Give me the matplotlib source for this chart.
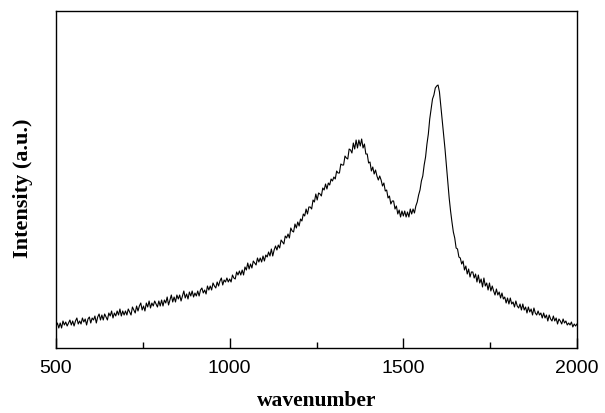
import numpy as np
import matplotlib.pyplot as plt

# Raman spectrum, every 4 cm-1 (intensity in arbitrary units)
wavenumber = np.arange(500, 2001, 4)
intensity = [
    # 500-596
    22, 25, 20, 25, 20, 27, 23, 26, 22, 25, 28, 23, 27, 22, 27, 30, 24, 27, 24, 30, 26, 29, 23, 29, 31,
    # 600-696
    25, 30, 28, 32, 25, 31, 34, 28, 33, 28, 34, 31, 28, 35, 32, 37, 30, 35, 32, 37, 33, 39, 32, 37, 33,
    # 700-796
    37, 33, 39, 36, 33, 41, 38, 35, 42, 37, 42, 45, 38, 42, 37, 45, 41, 47, 40, 45, 42, 47, 44, 41, 47,
    # 800-896
    42, 48, 42, 48, 45, 51, 43, 48, 53, 46, 51, 46, 53, 49, 53, 47, 52, 57, 50, 54, 49, 56, 52, 57, 51,
    # 900-996
    55, 52, 57, 52, 58, 60, 55, 58, 54, 62, 58, 62, 58, 65, 62, 60, 66, 62, 67, 70, 63, 68, 66, 70, 66,
    # 1000-1096
    69, 66, 73, 70, 69, 76, 73, 77, 73, 78, 73, 81, 78, 85, 79, 84, 80, 87, 85, 83, 90, 86, 90, 86, 92,
    # 1100-1196
    87, 93, 91, 96, 92, 99, 92, 98, 102, 98, 103, 100, 108, 106, 104, 112, 110, 114, 110, 120, 117, 116, 124, 120, 126,
    # 1200-1296
    122, 129, 127, 134, 132, 139, 134, 141, 141, 139, 148, 146, 154, 148, 155, 154, 152, 160, 158, 164, 159, 165, 163, 169, 167,
    # 1300-1396  (D band)
    171, 169, 177, 175, 175, 184, 183, 183, 192, 190, 189, 199, 198, 195, 205, 199, 208, 200, 208, 202, 209, 200, 204, 194, 194,
    # 1400-1496
    185, 186, 177, 181, 174, 178, 172, 168, 172, 168, 162, 165, 157, 158, 150, 152, 144, 147, 147, 139, 142, 134, 138, 131, 137,
    # 1500-1596  (G band rising)
    132, 137, 131, 136, 131, 139, 134, 139, 135, 142, 146, 153, 158, 167, 172, 183, 191, 204, 214, 229, 239, 249, 253, 260, 262,
    # 1600-1696
    263, 256, 242, 229, 214, 199, 183, 167, 150, 137, 126, 116, 110, 100, 99, 91, 90, 84, 87, 78, 82, 74, 79, 71, 76,
    # 1700-1796
    76, 70, 74, 66, 73, 65, 69, 61, 70, 62, 65, 58, 65, 57, 62, 57, 53, 59, 53, 56, 50, 55, 49, 51, 45,
    # 1800-1896
    50, 44, 50, 44, 46, 41, 47, 42, 40, 44, 38, 44, 38, 41, 35, 41, 36, 39, 33, 40, 35, 33, 37, 33, 35,
    # 1900-1996
    30, 35, 30, 33, 27, 33, 29, 27, 32, 27, 30, 24, 29, 27, 24, 29, 25, 27, 23, 25, 23, 26, 21, 24, 22,
    # 2000
    24,
]

xticks = [500, 1000, 1500, 2000]
xminor = [750, 1250, 1750]

fig = plt.figure(figsize=(6.05, 4.14), dpi=100)
ax = fig.add_axes([0.0926, 0.157, 0.8611, 0.814])

ax.plot(wavenumber, intensity, color='black', lw=0.8)

ax.set_xlim(500, 2000)
ax.set_ylim(0, 337)
ax.set_xticks(xticks)
ax.set_xticks(xminor, minor=True)
ax.set_yticks([])
ax.tick_params(axis='x', which='major', direction='in', length=7, width=1,
               labelsize=14, pad=8)
ax.tick_params(axis='x', which='minor', direction='in', length=4, width=1)
for lab in ax.get_xticklabels():
    lab.set_family('Liberation Sans')
for sp in ax.spines.values():
    sp.set_linewidth(1)

ax.set_xlabel('wavenumber', family='Liberation Serif', fontweight='bold',
              fontsize=15.5, labelpad=10)
ax.set_ylabel('Intensity (a.u.)', family='Liberation Serif', fontweight='bold',
              fontsize=16)
ax.yaxis.set_label_coords(-0.044, 0.478)

fig.savefig('out.png', dpi=100)
